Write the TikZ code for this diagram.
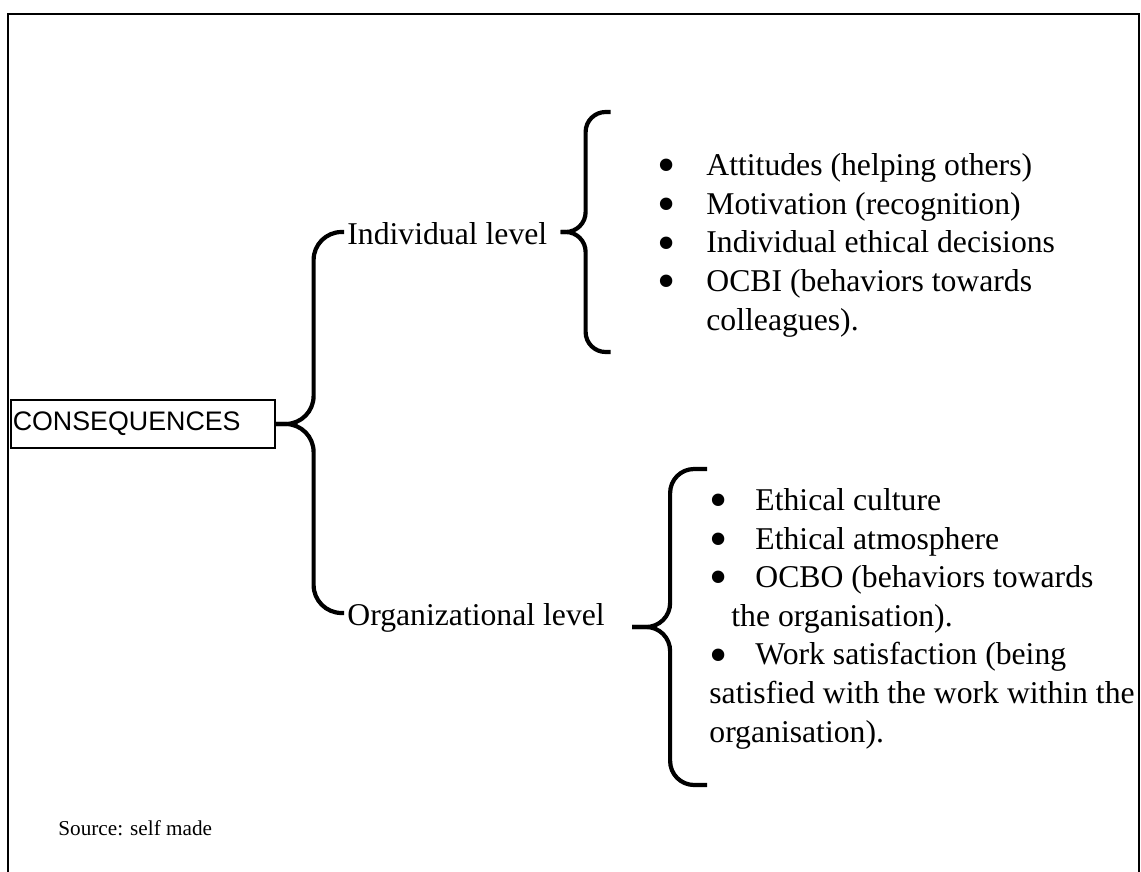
\documentclass[tikz,border=0pt]{standalone}
\usepackage{fontspec}
\setmainfont{Liberation Serif}
\newfontfamily\arialfont{Liberation Sans}
\usetikzlibrary{positioning, calc}
\newcommand{\itembul}[1]{\makebox[#1][l]{\smash{\raisebox{-3.6pt}{\fontsize{26}{26}\selectfont\textbullet}}}}

\begin{document}
\begin{tikzpicture}[
  x=0.5pt, y=-0.5pt,
  rootbox/.style={
    draw, line width=0.8pt,
    font=\arialfont\fontsize{13.4}{16}\selectfont,
    text width=130pt, align=left,
    inner xsep=1pt, minimum height=24pt
  },
  lvl/.style={
    font=\fontsize{15.85}{19}\selectfont,
    inner xsep=1.5pt, inner ysep=0pt,
    text height=12.7pt, text depth=0pt
  },
  itemlist/.style={
    font=\fontsize{15.85}{19.3}\selectfont,
    align=left, inner sep=0pt
  },
  bracepath/.style={line width=2.1pt, rounded corners=#1},
  bracepath/.default=12pt
]
\useasboundingbox (0,0) rectangle (1141,872);

%% frame
\draw[line width=1pt] (8,14) rectangle (1139,880);

%% root
\node[rootbox, anchor=west] (conseq) at (10,424) {CONSEQUENCES};

%% levels
\node[lvl, anchor=west] (indiv) at (344,232) {Individual level};
\node[lvl, anchor=west] (org) at (344,613) {Organizational level};

\draw[bracepath=14pt] (conseq.east) -- ++(38,0) |- (indiv.west);
\draw[bracepath=14pt] (conseq.east) -- ++(38,0) |- (org.west);

%% individual level
\coordinate[right=5pt of indiv] (itip);
\coordinate (itop) at ($(itip)+(50,-120)$);
\coordinate (ibot) at ($(itip)+(50,120)$);
\draw[bracepath=10pt] (itip) -- ++(25,0) |- (itop);
\draw[bracepath=10pt] (itip) -- ++(25,0) |- (ibot);

% base = last line
\node[itemlist, anchor=base west] (indlist) at (657,330)
  {\itembul{24.5pt}Attitudes (helping others)\\
   \itembul{24.5pt}Motivation (recognition)\\
   \itembul{24.5pt}Individual ethical decisions\\
   \itembul{24.5pt}OCBI (behaviors towards\\
   \hspace*{24.5pt}colleagues).};

%% organizational level
\coordinate (otip) at ($(org.east)+(24,14)$);
\coordinate (otop) at ($(otip)+(75,-158)$);
\coordinate (obot) at ($(otip)+(75,158)$);
\draw[bracepath=12pt] (otip) -- ++(38,0) |- (otop);
\draw[bracepath=12pt] (otip) -- ++(38,0) |- (obot);

\node[itemlist, anchor=base west] (orglist) at (709,742)
  {\itembul{23pt}Ethical culture\\
   \itembul{23pt}Ethical atmosphere\\
   \itembul{23pt}OCBO (behaviors towards\\
   \hspace*{11pt}the organisation).\\
   \itembul{23pt}Work satisfaction (being\\
   satisfied with the work within the\\
   organisation).};

%% source
\node[anchor=base west, inner sep=0pt, font=\fontsize{10.6}{13}\selectfont] (src)
  at (58,835) {Source: self made};

\end{tikzpicture}
\end{document}
